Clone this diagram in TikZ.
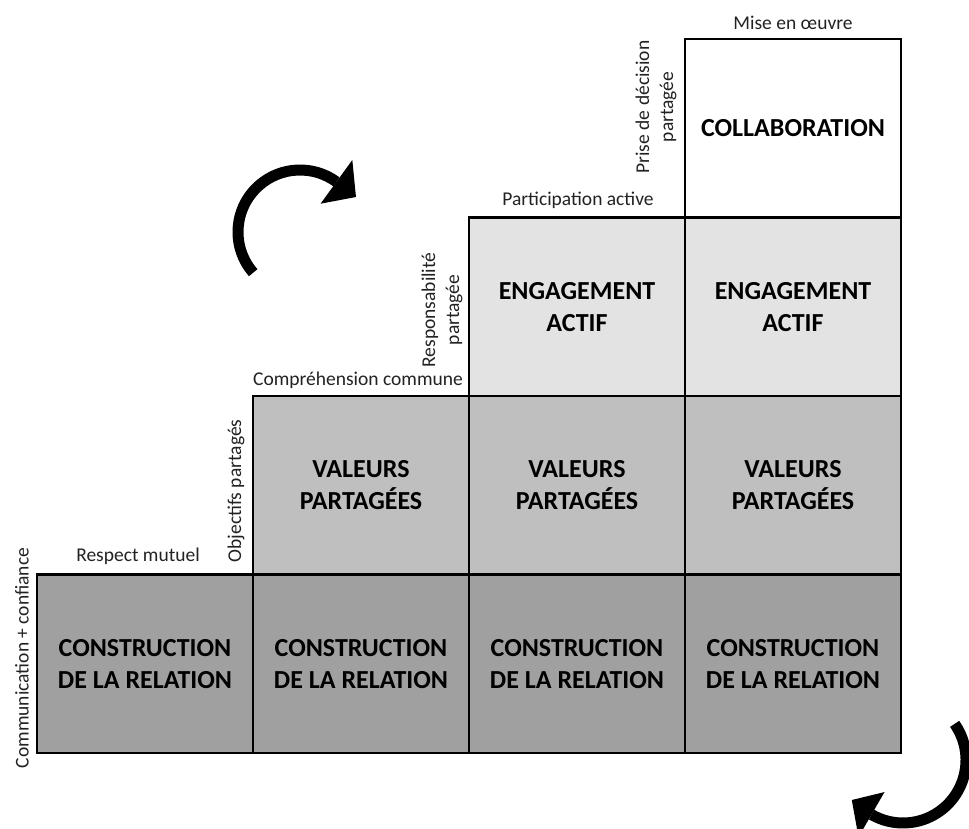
\documentclass[tikz,border=0pt]{standalone}
\usepackage{fontspec}
\setmainfont{Carlito}
\usetikzlibrary{calc}
\definecolor{rowA}{HTML}{A0A0A0}
\definecolor{rowB}{HTML}{BFBFBF}
\definecolor{rowC}{HTML}{E3E3E3}
\definecolor{txt}{HTML}{222222}
\begin{document}
\begin{tikzpicture}[x=1pt,y=-1pt,
 cell/.style={draw=black, line width=2.8pt, inner sep=0pt, outer sep=0pt,
   minimum width=216pt, minimum height=178.5pt, align=center,
   font=\fontsize{26}{32}\selectfont\bfseries, text=black},
 lbl/.style={font=\fontsize{19.5}{24}\selectfont, text=txt, inner sep=0pt, align=center},
 arrowline/.style={line width=11pt, line cap=butt},
]
\useasboundingbox (0,0) rectangle (969,829);
% row 4 (bottom)
\node[cell, fill=rowA] (r4c1) at (145,663.75) {CONSTRUCTION\\DE LA RELATION};
\node[cell, fill=rowA] (r4c2) at (361,663.75) {CONSTRUCTION\\DE LA RELATION};
\node[cell, fill=rowA] (r4c3) at (577,663.75) {CONSTRUCTION\\DE LA RELATION};
\node[cell, fill=rowA] (r4c4) at (793,663.75) {CONSTRUCTION\\DE LA RELATION};
% row 3
\node[cell, fill=rowB] (r3c2) at (361,485.25) {VALEURS\\PARTAGÉES};
\node[cell, fill=rowB] (r3c3) at (577,485.25) {VALEURS\\PARTAGÉES};
\node[cell, fill=rowB] (r3c4) at (793,485.25) {VALEURS\\PARTAGÉES};
% row 2
\node[cell, fill=rowC] (r2c3) at (577,306.75) {ENGAGEMENT\\ACTIF};
\node[cell, fill=rowC] (r2c4) at (793,306.75) {ENGAGEMENT\\ACTIF};
% row 1
\node[cell, fill=white] (r1c4) at (793,128.25) {COLLABORATION};
% labels
\node[lbl] (l1) at (793,23) {Mise en œuvre};
\node[lbl] (l2) at (578,200) {Participation active};
\node[lbl] (l3) at (358,380) {Compréhension commune};
\node[lbl] (l4) at (138,556) {Respect mutuel};
\node[lbl, rotate=90] (l5) at (236,491) {Objectifs partagés};
\node[lbl, rotate=90] (l6) at (22,658) {Communication + confiance};
\node[lbl, rotate=90] (l7) at (442,310) {Responsabilité\\partagée};
\node[lbl, rotate=90] (l8) at (656,107) {Prise de décision\\partagée};
% curved arrows
\coordinate (c1) at (300,232);
\draw[arrowline] ($(c1)+(139:62)$) arc[start angle=139, end angle=306, radius=62];
\fill ($(c1)+(306:89)$) -- ($(c1)+(306:35)$) -- ($(c1)+(328:66)$) -- cycle;
\coordinate (c2) at (903,760);
\draw[arrowline] ($(c2)+(-35:63)$) arc[start angle=-35, end angle=120, radius=63];
\fill ($(c2)+(120:89)$) -- ($(c2)+(120:37)$) -- ($(c2)+(142:65)$) -- cycle;
\end{tikzpicture}
\end{document}
